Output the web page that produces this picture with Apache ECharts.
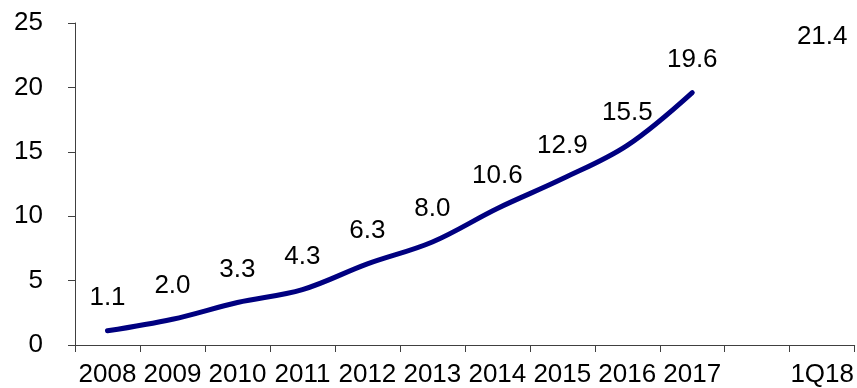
<!DOCTYPE html>
<html>
<head>
<meta charset="utf-8">
<style>
  html, body { margin: 0; padding: 0; background: #fff; }
  #chart { width: 857px; height: 388px; }
</style>
<script src="https://cdn.jsdelivr.net/npm/echarts@6/dist/echarts.min.js"></script>
</head>
<body>
<div id="chart"></div>
<script>
// Categories along the x axis (the blank slot separates the annual run from the quarter)
const categories = ['2008', '2009', '2010', '2011', '2012', '2013', '2014', '2015', '2016', '2017', '', '1Q18'];
// Annual values, drawn as a smoothed line
const annualValues = [1.1, 2.0, 3.3, 4.3, 6.3, 8.0, 10.6, 12.9, 15.5, 19.6, null, null];
// Every labelled value, including the latest quarter
const labelValues = [1.1, 2.0, 3.3, 4.3, 6.3, 8.0, 10.6, 12.9, 15.5, 19.6, null, 21.4];
// Y axis range
const yMin = 0, yMax = 25, yStep = 5;

const FONT = 'Liberation Sans, Arial, sans-serif';
const FONT_SIZE = 26;
const chart = echarts.init(document.getElementById('chart'), null, { renderer: 'canvas' });

chart.setOption({
  animation: false,
  grid: { left: 75, right: 2, top: 23, bottom: 41, containLabel: false },
  xAxis: {
    type: 'category',
    data: categories,
    boundaryGap: true,
    axisLine: { lineStyle: { color: '#404040', width: 1 } },
    axisTick: { show: true, length: 7, alignWithLabel: false, lineStyle: { color: '#404040' } },
    axisLabel: { color: '#000', fontFamily: FONT, fontSize: FONT_SIZE, margin: 17, interval: 0 },
    splitLine: { show: false }
  },
  yAxis: {
    type: 'value',
    min: yMin, max: yMax, interval: yStep,
    axisLine: { show: true, lineStyle: { color: '#404040', width: 1 } },
    axisTick: { show: true, length: 7, lineStyle: { color: '#404040' } },
    axisLabel: { color: '#000', fontFamily: FONT, fontSize: FONT_SIZE, margin: 32 },
    splitLine: { show: false }
  },
  series: [
    {
      type: 'line',
      data: annualValues,
      smooth: 0.35,
      showSymbol: false,
      symbol: 'none',
      connectNulls: false,
      lineStyle: { color: '#000080', width: 5, cap: 'round' },
      itemStyle: { color: '#000080' },
      z: 2
    },
    {
      type: 'scatter',
      data: labelValues,
      symbolSize: 0,
      itemStyle: { color: '#000', opacity: 1 },
      label: {
        show: true,
        position: 'top',
        distance: 20,
        color: '#000',
        opacity: 1,
        fontFamily: FONT,
        fontSize: FONT_SIZE,
        formatter: p => p.value == null ? '' : Number(p.value).toFixed(1)
      },
      emphasis: { disabled: true },
      z: 3
    }
  ]
});
</script>
</body>
</html>
